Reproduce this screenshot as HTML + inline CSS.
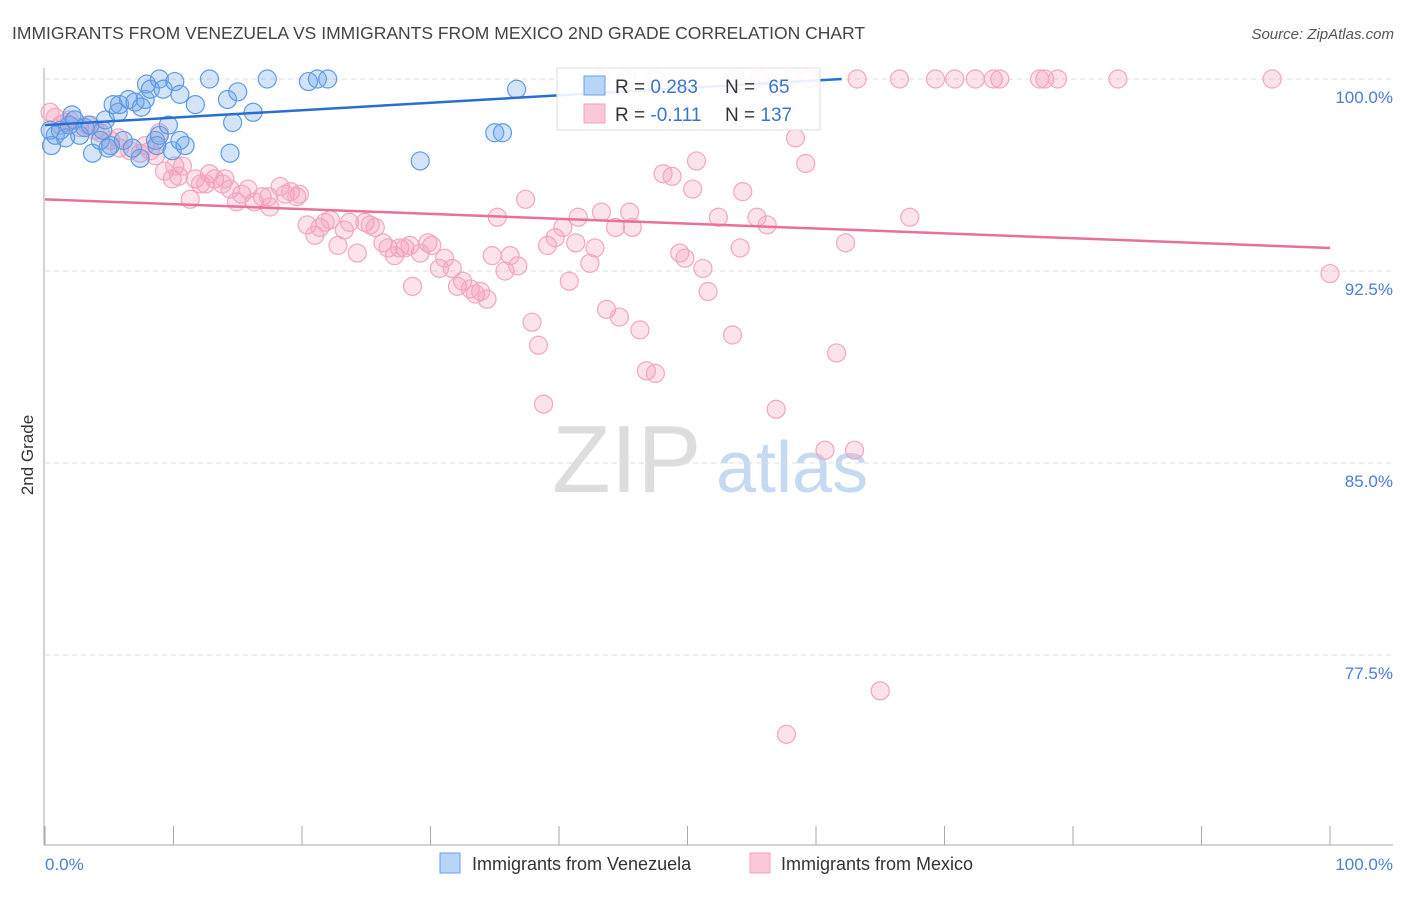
<!DOCTYPE html>
<html><head><meta charset="utf-8"><style>
body{margin:0;background:#fff;font-family:"Liberation Sans",sans-serif;}
svg text{font-family:"Liberation Sans",sans-serif;}
</style></head><body>
<svg id="chart" width="1406" height="892" xmlns="http://www.w3.org/2000/svg">
<text x="12" y="39" font-size="17.5" fill="#444">IMMIGRANTS FROM VENEZUELA VS IMMIGRANTS FROM MEXICO 2ND GRADE CORRELATION CHART</text>
<text x="1394" y="39" font-size="15" font-style="italic" fill="#555" text-anchor="end">Source: ZipAtlas.com</text>
<g>
<text x="552" y="492" font-size="96" font-family="Liberation Serif" fill="#ddd">ZIP</text>
<text x="716" y="492" font-size="72" fill="#c5daf2">atlas</text>
</g>
<g id="grid"></g>
<g id="axes"></g>
<g id="points"></g>
<g id="trends"></g>
<g>
<rect x="557" y="68" width="263" height="62" fill="#fff" fill-opacity="0.9" stroke="#ddd"/>
<rect x="584" y="76" width="21" height="19" fill="#b8d4f6" stroke="#6aa0e6"/>
<rect x="584" y="104" width="21" height="19" fill="#fac8d8" stroke="#f0a0bc"/>
<text x="615" y="93" font-size="19" fill="#333">R = <tspan fill="#3a74d0">0.283</tspan></text>
<text x="725" y="93" font-size="19" fill="#333">N = <tspan fill="#3a74d0" dx="8">65</tspan></text>
<text x="615" y="121" font-size="19" fill="#333">R = <tspan fill="#3a74d0">-0.111</tspan></text>
<text x="725" y="121" font-size="19" fill="#333">N = <tspan fill="#3a74d0">137</tspan></text>
</g>
<g>
<rect x="440" y="853" width="20" height="20" fill="#b8d4f6" stroke="#6aa0e6"/>
<text x="472" y="870" font-size="18" fill="#333">Immigrants from Venezuela</text>
<rect x="750" y="853" width="20" height="20" fill="#fac8d8" stroke="#f0a0bc"/>
<text x="781" y="870" font-size="18" fill="#333">Immigrants from Mexico</text>
</g>
</svg>
<script>
const yTicks=[100,92.5,85,77.5];
const yTickLabels=["100.0%","92.5%","85.0%","77.5%"];
const xTicks=[0,10,20,30,40,50,60,70,80,90,100];
const xEndLabels=["0.0%","100.0%"];
const venX=[0.4,0.5,0.8,1.2,1.6,1.9,2.1,2.3,2.7,3.1,3.5,3.7,4.3,4.5,4.7,5.1,5.3,5.7,5.8,6.1,6.5,7.0,7.4,7.8,7.9,8.2,8.6,8.7,8.9,9.2,9.9,10.1,10.5,10.5,10.9,11.7,12.8,14.2,14.4,14.6,15.0,16.2,17.3,20.5,21.2,22.0,29.2,35.0,35.6,36.7,8.9,9.6,4.9,6.8,7.5];
const venY=[98.0,97.4,97.8,98.0,97.7,98.2,98.6,98.4,97.8,98.1,98.2,97.1,97.6,98.0,98.4,97.4,99.0,98.7,99.0,97.6,99.2,99.1,96.9,99.2,99.8,99.6,97.6,97.4,100.0,99.6,97.2,99.9,99.4,97.6,97.4,99.0,100.0,99.2,97.1,98.3,99.5,98.7,100.0,99.9,100.0,100.0,96.8,97.9,97.9,99.6,97.8,98.2,97.3,97.3,98.9];
const mexX=[0.4,0.8,1.2,1.6,1.9,2.7,3.3,3.9,4.3,5.1,5.7,5.8,6.6,7.4,7.8,8.2,8.6,9.3,9.9,10.4,10.7,11.3,11.7,12.1,12.8,13.2,13.8,14.4,14.9,15.3,15.8,16.3,16.9,17.5,18.3,18.7,19.1,19.6,19.8,20.4,21.0,21.4,21.8,22.2,22.8,23.3,23.7,24.3,24.9,25.3,25.7,26.3,26.7,27.2,27.6,28.0,28.4,28.6,29.2,29.8,30.1,30.7,31.1,31.7,32.1,32.5,33.1,33.5,33.9,34.4,34.8,35.2,35.8,36.2,36.8,37.4,37.9,38.4,38.8,39.1,39.7,40.3,40.8,41.3,41.5,42.4,42.8,43.3,43.7,44.4,44.7,45.5,45.7,46.3,46.8,47.5,48.1,48.8,49.4,49.8,50.4,50.7,51.2,51.6,52.4,53.5,54.1,54.3,55.4,56.2,56.9,57.7,58.4,59.2,60.7,61.6,62.3,63.0,65.0,67.3,100,47.5,55.6,59.5,63.2,66.5,69.3,70.8,72.4,73.8,74.3,77.4,77.8,78.8,83.5,95.5,43.2,45.3,53.7,58.0,8.9,10.1,12.5,14.0,17.4];
const mexY=[98.7,98.5,98.2,98.3,98.4,98.1,98.2,98.0,97.9,97.6,97.7,97.3,97.2,97.1,97.4,97.2,97.0,96.4,96.1,96.2,96.6,95.3,96.1,95.9,96.3,96.1,95.9,95.7,95.2,95.5,95.7,95.2,95.4,95.0,95.8,95.5,95.6,95.4,95.5,94.3,93.9,94.2,94.4,94.5,93.5,94.1,94.4,93.2,94.4,94.3,94.2,93.6,93.4,93.1,93.4,93.4,93.5,91.9,93.2,93.6,93.5,92.6,93.0,92.6,91.9,92.1,91.8,91.6,91.7,91.4,93.1,94.6,92.5,93.1,92.7,95.3,90.5,89.6,87.3,93.5,93.8,94.2,92.1,93.6,94.6,92.8,93.4,94.8,91.0,94.2,90.7,94.8,94.2,90.2,88.6,88.5,96.3,96.2,93.2,93.0,95.7,96.8,92.6,91.7,94.6,90.0,93.4,95.6,94.6,94.3,87.1,74.4,97.7,96.7,85.5,89.3,93.6,85.5,76.1,94.6,92.4,100,100,100,100,100,100,100,100,100,100,100,100,100,100,100,100,100,100,100,97.9,96.6,95.9,96.1,95.4];
const venTrend=[[0,98.2],[62,100.0]];
const mexTrend=[[0,95.3],[100,93.4]];
const NS="http://www.w3.org/2000/svg";
const X=v=>45+v*12.85;
const Y=v=>79+(100-v)*25.6;
function mk(tag,attrs,parent){const e=document.createElementNS(NS,tag);for(const k in attrs)e.setAttribute(k,attrs[k]);document.getElementById(parent).appendChild(e);return e;}
yTicks.forEach((t,i)=>{
 const l=mk('line',{x1:45,x2:1393,y1:Y(t),y2:Y(t),stroke:'#ddd','stroke-dasharray':'5,4'},'grid');
 
 
 const tx=mk('text',{x:1393,y:Y(t)+24,'font-size':17,fill:'#4a7fd6','text-anchor':'end'},'axes');
 tx.textContent=yTickLabels[i];
 
 
});
const ax=mk('line',{x1:44,x2:44,y1:68,y2:845,stroke:'#aaa'},'axes');


const bx=mk('line',{x1:44,x2:1393,y1:845,y2:845,stroke:'#aaa'},'axes');


xTicks.forEach(t=>{
 const l=mk('line',{x1:X(t),x2:X(t),y1:826,y2:845,stroke:'#aaa'},'axes');
 
 
});
const xl0=mk('text',{x:45,y:870,'font-size':17,fill:'#4a7fd6'},'axes');xl0.textContent=xEndLabels[0];


const xl1=mk('text',{x:1393,y:870,'font-size':17,fill:'#4a7fd6','text-anchor':'end'},'axes');xl1.textContent=xEndLabels[1];


const yt=mk('text',{x:0,y:0,'font-size':17,fill:'#333','text-anchor':'middle',transform:'translate(33,455) rotate(-90)'},'axes');yt.textContent='2nd Grade';


mexX.forEach((v,i)=>{
 const c=mk('circle',{cx:X(v),cy:Y(mexY[i]),r:9,fill:'rgba(245,160,190,0.3)',stroke:'#f2a6c0','stroke-width':1.2},'points');
 
 
});
venX.forEach((v,i)=>{
 const c=mk('circle',{cx:X(v),cy:Y(venY[i]),r:9,fill:'rgba(110,165,235,0.3)',stroke:'#5f9be2','stroke-width':1.2},'points');
 
 
});
const t1=mk('line',{x1:X(venTrend[0][0]),y1:Y(venTrend[0][1]),x2:X(venTrend[1][0]),y2:Y(venTrend[1][1]),stroke:'#2a6fd0','stroke-width':2.5},'trends');


const t2=mk('line',{x1:X(mexTrend[0][0]),y1:Y(mexTrend[0][1]),x2:X(mexTrend[1][0]),y2:Y(mexTrend[1][1]),stroke:'#e8709a','stroke-width':2.5},'trends');


</script>
</body></html>
